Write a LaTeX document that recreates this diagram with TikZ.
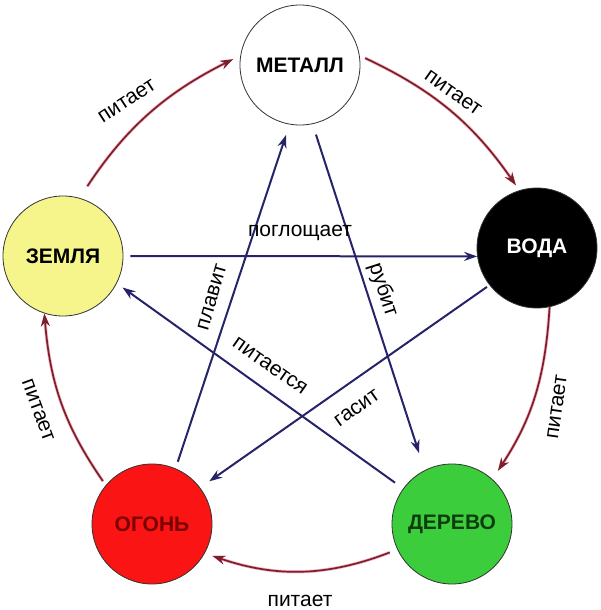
\documentclass[tikz,border=0pt]{standalone}
\usepackage{fontspec}
\setmainfont{Liberation Sans}
\usetikzlibrary{arrows.meta}

\definecolor{feedred}{RGB}{125,30,45}
\definecolor{glowpink}{RGB}{245,185,195}
\definecolor{linkblue}{RGB}{38,36,105}
\definecolor{earthfill}{RGB}{245,245,140}
\definecolor{firefill}{RGB}{250,20,20}
\definecolor{woodfill}{RGB}{60,205,60}
\definecolor{firetext}{RGB}{120,0,0}
\definecolor{woodtext}{RGB}{15,60,15}

\begin{document}
\begin{tikzpicture}[%
            x=1pt, y=-1pt,
            >={Stealth[length=13pt,width=9pt]},
            elem/.style={circle, draw=black!80, line width=0.8pt, minimum size=120pt,
              inner sep=0pt, font=\fontsize{21}{25}\selectfont\bfseries},
            feed/.style={->, feedred, line width=1.7pt,
              preaction={draw=glowpink, line width=3.2pt}},
            ctrl/.style={->, linkblue, line width=2pt},
            lbl/.style={font=\fontsize{21}{25}\selectfont, inner sep=1pt}
            ]
            \useasboundingbox (0,0) rectangle (600,610);

            % elements
            \node[elem, fill=white] (metal) at (300,65) {МЕТАЛЛ};
            \node[elem, fill=earthfill] (earth) at (63,256) {ЗЕМЛЯ};
            \node[elem, fill=black, text=white] (water) at (537,248) {ВОДА};
            \node[elem, fill=firefill, text=firetext] (fire) at (152,524) {ОГОНЬ};
            \node[elem, fill=woodfill, text=woodtext] (wood) at (452,524) {ДЕРЕВО};

            % feeding circle
            \draw[feed, shorten <=14pt, shorten >=8pt] (earth.74) to[bend left=15] (metal.171);
            \draw[feed, shorten <=6pt, shorten >=6pt] (metal.9) to[bend left=15] (water.107);
            \draw[feed, shorten >=10pt] (water.-78) to[bend left=15] (wood.48);
            \draw[feed, shorten <=8pt, shorten >=8pt] (wood.205) to[bend left=20] (fire.-29);
            \draw[feed, shorten <=5pt] (fire.140) to[bend left=15] (earth.-108);

            % star
            \draw[ctrl, shorten <=7pt, shorten >=11pt] (fire.67) -- (metal.-100.5);
            \draw[ctrl, shorten <=11pt, shorten >=18pt] (metal.-78.7) -- (wood.117.5);
            \draw[ctrl, shorten <=7pt] (earth.0) -- (water.188);
            \draw[ctrl, shorten <=10pt, shorten >=7pt] (wood.144) -- (earth.-27.7);
            \draw[ctrl, shorten <=3pt, shorten >=11pt] (water.218.5) -- (fire.37.5);

            % labels
            \node[lbl, rotate=33] (f1) at (127,101) {питает};
            \node[lbl, rotate=-35] (f2) at (453,93) {питает};
            \node[lbl, rotate=82] (f3) at (557,407) {питает};
            \node[lbl] (f4) at (300,601) {питает};
            \node[lbl, rotate=-70] (f5) at (38,410) {питает};
            \node[lbl] (c1) at (300,233) {поглощает};
            \node[lbl, rotate=74] (c2) at (212,297) {плавит};
            \node[lbl, rotate=-72] (c3) at (383,290) {рубит};
            \node[lbl, rotate=-35] (c4) at (270,366) {питается};
            \node[lbl, rotate=35] (c5) at (357,408) {гасит};

        \end{tikzpicture}
\end{document}
